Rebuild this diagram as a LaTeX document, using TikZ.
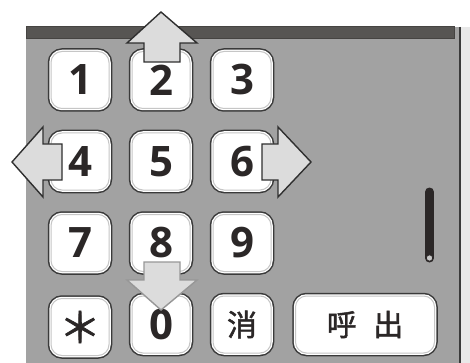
\documentclass[tikz,border=0pt]{standalone}
\usepackage{fontspec}
\newfontfamily\keyfont{Open Sans}
\newfontfamily\jpfont[FakeBold=1.6]{Noto Sans CJK JP}
\definecolor{panelgray}{HTML}{A2A2A2}
\definecolor{bargray}{HTML}{575553}
\definecolor{stripgray}{HTML}{E8E8E8}
\definecolor{keyedge}{HTML}{3A3A3A}
\definecolor{keyring}{HTML}{C6C6C6}
\definecolor{keytext}{HTML}{2B2727}
\definecolor{arrowfill}{HTML}{DCDCDC}
\definecolor{arrowedge}{HTML}{2F2F2F}
\begin{document}
\begin{tikzpicture}[x=1pt, y=-1pt,
    key/.style={rectangle, rounded corners=11pt, minimum width=58pt, minimum height=57pt,
        inner sep=0pt, fill=white, draw=keyring, line width=1pt,
        preaction={draw=keyedge, line width=6.5pt},
        preaction={draw=white, line width=3.5pt},
        text=keytext, font=\keyfont\bfseries\fontsize{42}{42}\selectfont},
    jpkey/.style={key, font=\jpfont\fontsize{30}{30}\selectfont},
    move/.style={fill=arrowfill, draw=arrowedge, line width=1.4pt, line join=miter}]
    \useasboundingbox (0,0) rectangle (470,363);

    % Panel and frame
    \fill[panelgray] (26,27) rectangle (459,363);
    \filldraw[fill=bargray, draw=bargray!80!black, line width=1pt] (26,27) rectangle (454,39);
    \draw[keyedge, line width=2pt] (460,27) -- (460,363);
    \fill[stripgray] (461,27) rectangle (470,363);

    % Slider
    \draw[keytext, line width=9pt, line cap=round] (429.5,192) -- (429.5,258);
    \filldraw[fill=keyring, draw=keytext, line width=0.8pt] (429.5,258) circle (3.2);

    % Keypad
    \node[key] (k1) at (80,80) {1};
    \node[key] (k2) at (161,80) {2};
    \node[key] (k3) at (242,80) {3};
    \node[key] (k4) at (80,161.5) {4};
    \node[key] (k5) at (161,161.5) {5};
    \node[key] (k6) at (242,161.5) {6};
    \node[key] (k7) at (80,243) {7};
    \node[key] (k8) at (161,243) {8};
    \node[key] (k9) at (242,243) {9};
    \node[jpkey, font=\jpfont\fontsize{42}{42}\selectfont] (kstar) at (80,327) {＊};
    \node[key] (k0) at (161,324.5) {0};
    \node[jpkey] (kdel) at (242,324.5) {消};
    \node[jpkey, minimum width=139pt] (kcall) at (365,324.5) {呼\hspace{0.55em}出};

    % Direction arrows
    \filldraw[move] (161,12) -- (197,43) -- (180,43) -- (180,62) -- (144,62) -- (144,43) -- (127,43) -- cycle;
    \filldraw[move] (12,162) -- (43,127) -- (43,144) -- (62,144) -- (62,180) -- (43,180) -- (43,197) -- cycle;
    \filldraw[move] (311,162) -- (278,127) -- (278,144) -- (262,144) -- (262,180) -- (278,180) -- (278,197) -- cycle;
    \filldraw[move, draw=arrowedge!50] (161,310) -- (197,280) -- (180,280) -- (180,262) -- (144,262) -- (144,280) -- (127,280) -- cycle;
\end{tikzpicture}
\end{document}
